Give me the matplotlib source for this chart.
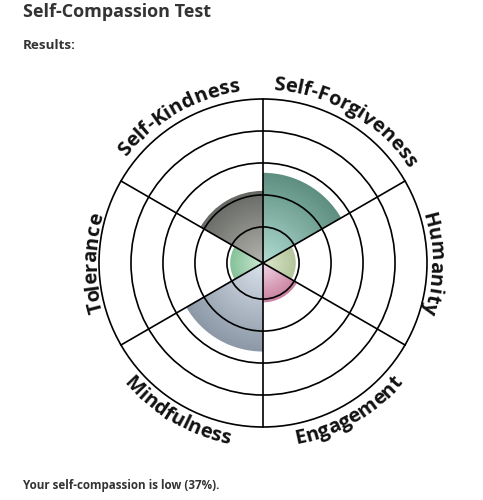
import numpy as np
import matplotlib.pyplot as plt
from matplotlib.patches import Wedge, Circle
from matplotlib.font_manager import FontProperties
from matplotlib.colors import to_rgb

# scores per dimension (percent of the outer ring), clockwise from the top
labels = ["Self-Forgiveness", "Humanity", "Engagement", "Mindfulness", "Tolerance", "Self-Kindness"]
scores = [55, 20, 24, 54, 20, 44]
rings = [22, 41.5, 61, 80.5, 100]
overall = 37

edge_cols = ["#5e8f80", "#b4c69c", "#c9809f", "#8d99a7", "#86c29a", "#676a65"]
mid_cols = ["#b2ded4", "#dde8d0", "#f3d8e6", "#dbe3ec", "#cde9d3", "#b6b6b0"]

W, H = 483, 500
cx, cy = 263, 500 - 263
R = 164.0  # px for 100 %

fig = plt.figure(figsize=(4.83, 5.0), dpi=100)
ax = fig.add_axes([0, 0, 1, 1])
ax.set_xlim(0, W)
ax.set_ylim(0, H)
ax.axis("off")

# gradient wedges
for i, (s, c1, c2) in enumerate(zip(scores, edge_cols, mid_cols)):
    mid = 60 - 60 * i
    r = s / 100 * R
    a, b = np.array(to_rgb(c1)), np.array(to_rgb(c2))
    n = 30
    for k in range(n):
        t = k / n
        col = a * (1 - t) + b * t
        ax.add_patch(Wedge((cx, cy), r * (1 - t), mid - 30, mid + 30, color=col, lw=0))

# rings and spokes
for lv in rings:
    ax.add_patch(Circle((cx, cy), lv / 100 * R, fill=False, ec="black", lw=1.2))
for ang in [90, 30, -30]:
    t = np.radians(ang)
    ax.plot([cx - R * np.cos(t), cx + R * np.cos(t)],
            [cy - R * np.sin(t), cy + R * np.sin(t)], color="black", lw=1.2)

# curved labels
fp = FontProperties(family=["Open Sans", "DejaVu Sans"], weight="bold", size=14.5)
renderer = fig.canvas.get_renderer()


def tw(s):
    if not s:
        return 0.0
    return renderer.get_text_width_height_descent(s, fp, ismath=False)[0]


for i, lab in enumerate(labels):
    mid = 60 - 60 * i
    sm = np.sin(np.radians(mid))
    bottom = sm < -0.1
    if bottom:
        rb = 184
    elif sm > 0.1:
        rb = 173
    else:
        rb = 167
    total = tw(lab)
    for j, ch in enumerate(lab):
        x0 = (tw(lab[:j]) + tw(lab[:j + 1])) / 2
        off = np.degrees((x0 - total / 2) / rb)
        if bottom:
            th = mid + off
            rot = th + 90
        else:
            th = mid - off
            rot = th - 90
        t = np.radians(th)
        ax.text(cx + rb * np.cos(t), cy + rb * np.sin(t), ch, fontproperties=fp,
                rotation=rot, rotation_mode="anchor", ha="center", va="baseline",
                color="#111111")

ax.text(23, H - 17, "Self-Compassion Test", fontsize=13, fontweight="bold",
        family=["Open Sans", "DejaVu Sans"], color="#333333", va="baseline")
ax.text(23, H - 49, "Results:", fontsize=9.7, fontweight="bold",
        family=["Open Sans", "DejaVu Sans"], color="#333333", va="baseline")
ax.text(23, H - 489, f"Your self-compassion is low ({overall}%).", fontsize=8.4,
        fontweight="bold", family=["Open Sans", "DejaVu Sans"], color="#333333",
        va="baseline")

fig.savefig("out.png", dpi=100)
